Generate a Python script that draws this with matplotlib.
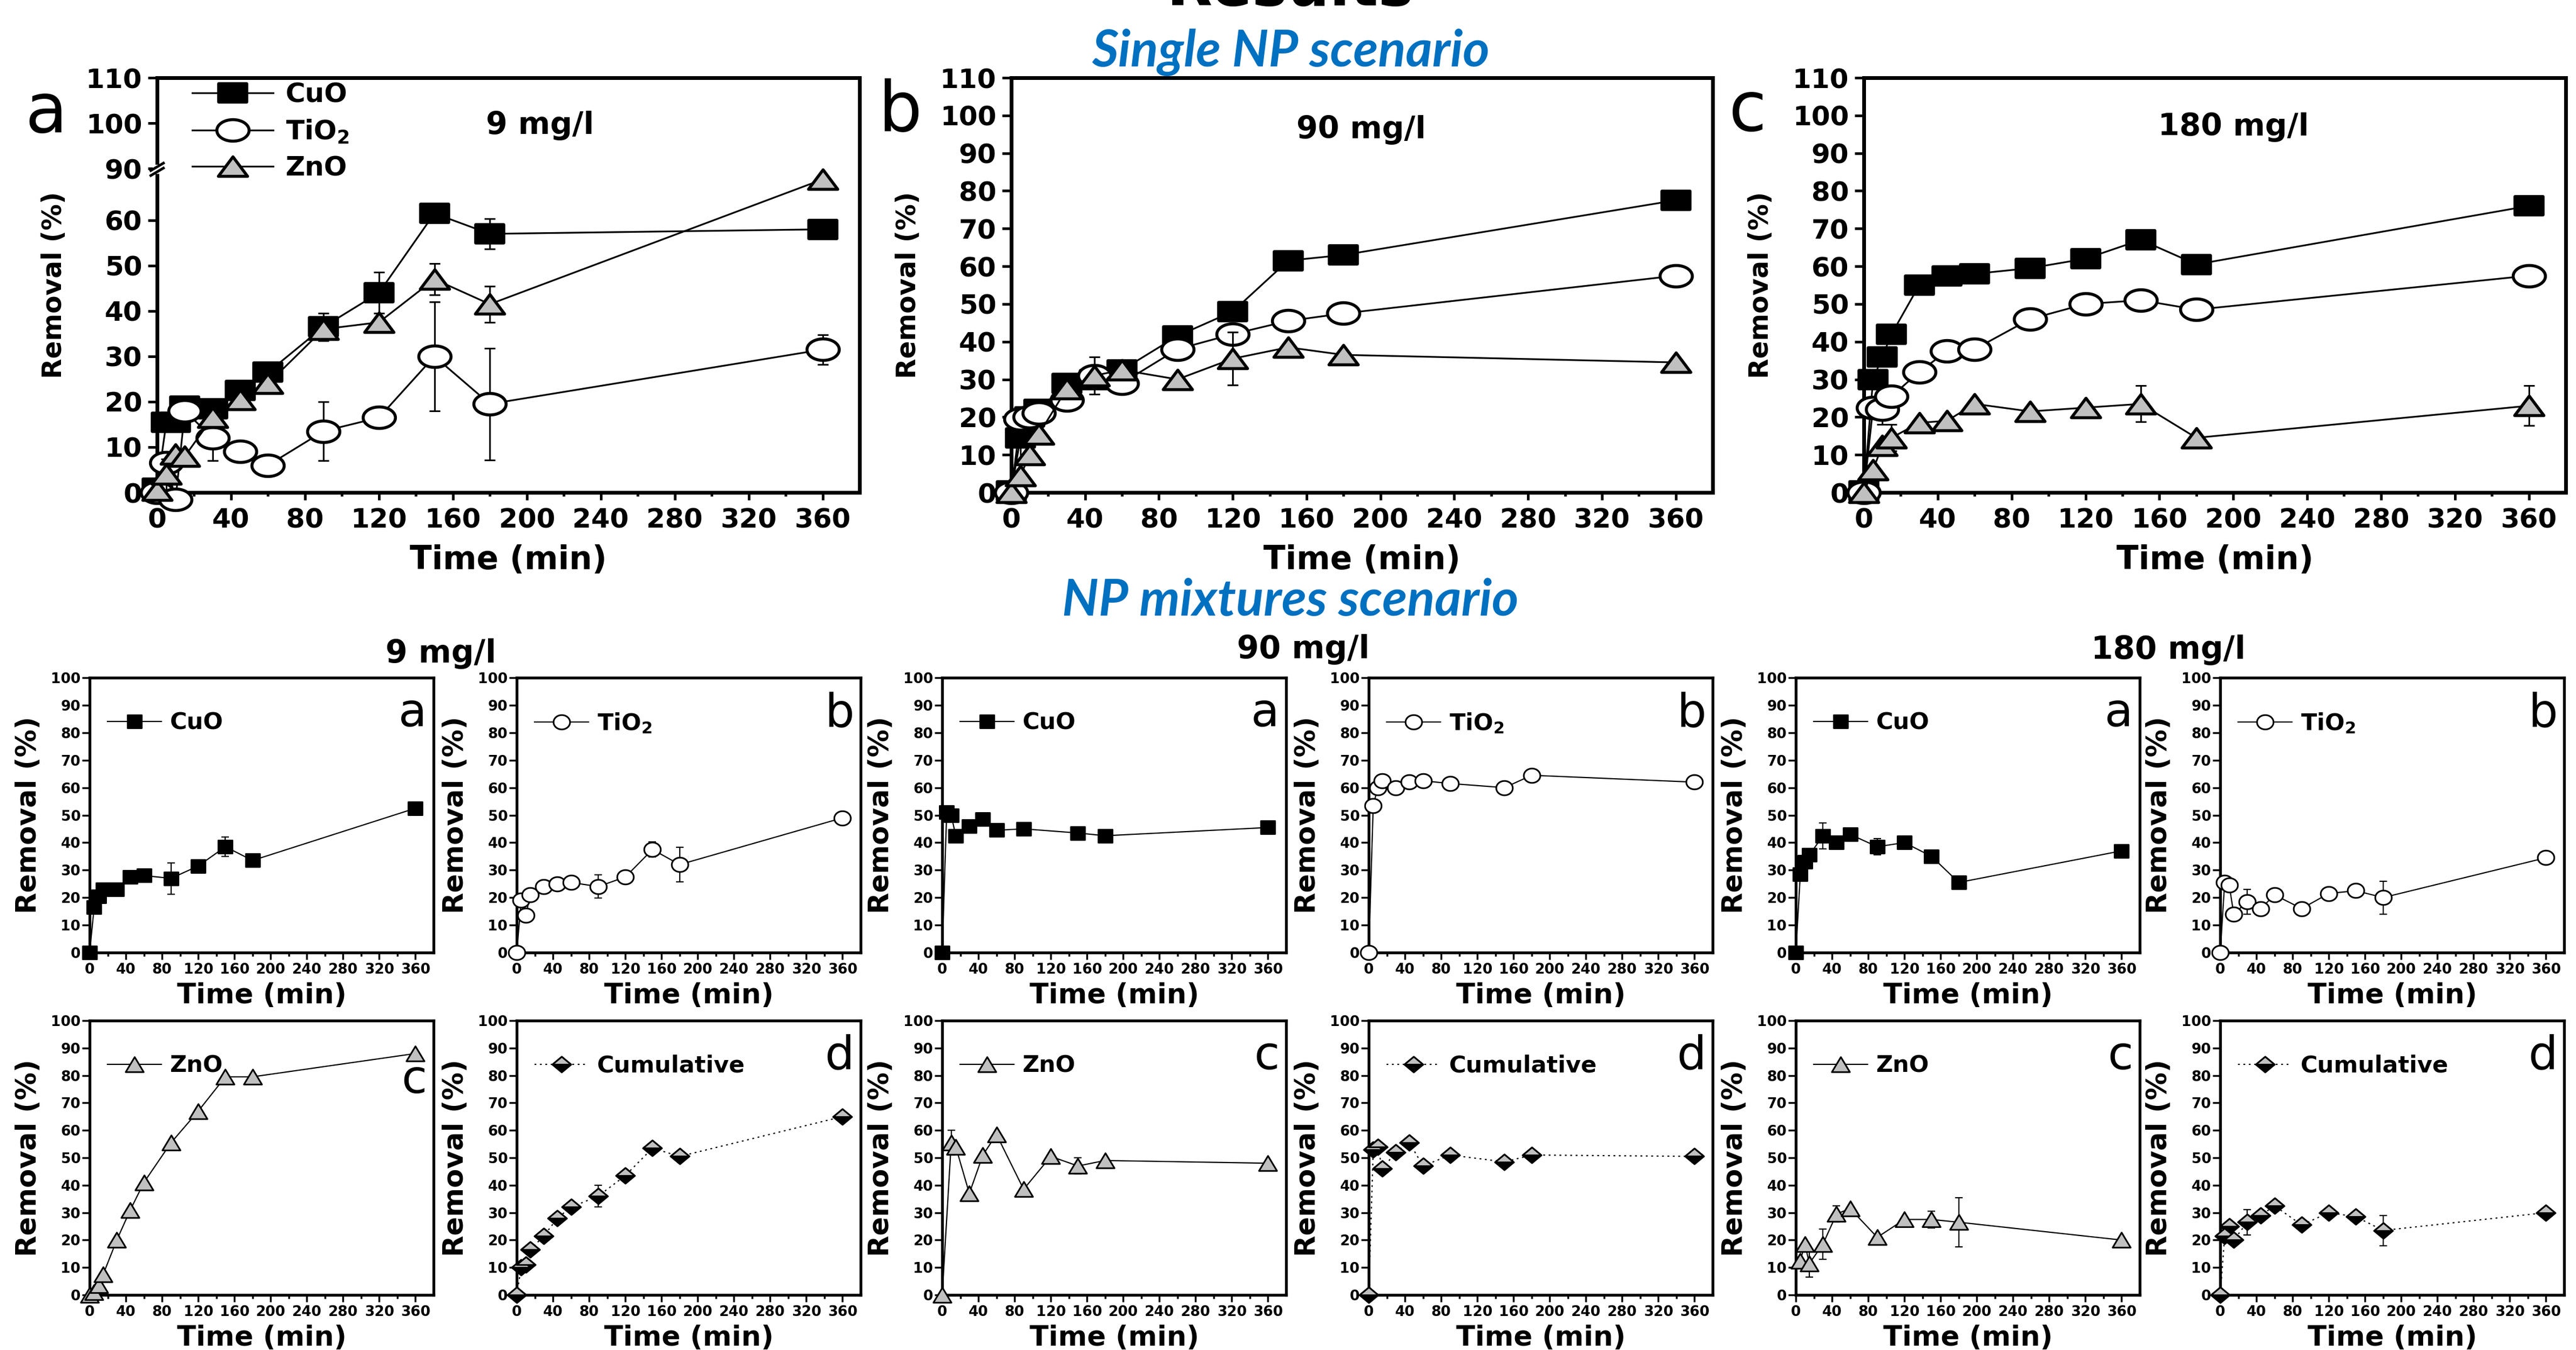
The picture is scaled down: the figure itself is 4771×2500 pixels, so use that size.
import numpy as np
import matplotlib
matplotlib.use('Agg')
import matplotlib.pyplot as plt
from matplotlib.path import Path
from matplotlib.markers import MarkerStyle
from matplotlib.patches import Rectangle
from matplotlib.legend_handler import HandlerTuple
from matplotlib.ticker import FixedLocator, NullLocator

plt.rcParams['font.family'] = ['DejaVu Sans']
plt.rcParams['font.weight'] = 'bold'
plt.rcParams['axes.labelweight'] = 'bold'
plt.rcParams['mathtext.fontset'] = 'dejavusans'
plt.rcParams['mathtext.default'] = 'bf'

# ---------------- data ----------------
TIME = [0, 5, 10, 15, 30, 45, 60, 90, 120, 150, 180, 360]
TIME_NO120 = [0, 5, 10, 15, 30, 45, 60, 90, 150, 180, 360]
TIME_ZNO_M90 = [0, 10, 15, 30, 45, 60, 90, 120, 150, 180, 360]
TIME_ZNO_M180 = [5, 10, 15, 30, 45, 60, 90, 120, 150, 180, 360]

XTICKS = [0, 40, 80, 120, 160, 200, 240, 280, 320, 360]
XMINOR = [20, 60, 100, 140, 180, 220, 260, 300, 340]
YTICKS_TOP = [0, 10, 20, 30, 40, 50, 60, 70, 80, 90, 100, 110]
YTICKS_BROKEN = [0, 10, 20, 30, 40, 50, 60, 90, 100, 110]
YTICKS_BOT = [0, 10, 20, 30, 40, 50, 60, 70, 80, 90, 100]

# Single NP scenario, 9 mg/l
S9_CUO = [1, 15.5, 15.5, 19, 18.5, 22.5, 26.5, 36.5, 44, 61.5, 57, 58]
S9_CUO_ERR = [0, 0, 0, 0, 0, 0, 0, 3, 4.5, 0, 3.3, 0]
S9_TIO2 = [0, 6.5, -1.5, 18, 12, 9, 6, 13.5, 16.5, 30, 19.5, 31.5]
S9_TIO2_ERR = [0, 0, 0, 0, 5, 0, 0, 6.5, 0, 12, 12.3, 3.3]
S9_ZNO = [0.5, 4, 8.5, 8, 16.5, 20.5, 24, 36, 37.5, 47, 41.5, 69]
S9_ZNO_ERR = [0, 3.4, 0, 0, 2.2, 0, 0, 0, 0, 3.5, 4, 0]

# Single NP scenario, 90 mg/l
S90_CUO = [0.5, 14.5, 20, 22, 29, 30, 32.5, 41.5, 48, 61.5, 63, 77.5]
S90_CUO_ERR = [0, 6.5, 0, 0, 0, 0, 0, 0, 0, 0, 0, 0]
S90_TIO2 = [0, 19.5, 20, 21, 24.5, 31, 29, 38, 42, 45.5, 47.5, 57.5]
S90_TIO2_ERR = [0, 0, 0, 0, 0, 5, 0, 0, 0, 0, 0, 0]
S90_ZNO = [0, 4.5, 10, 15.5, 27.5, 31, 32.5, 30, 35.5, 38.5, 36.5, 34.5]
S90_ZNO_ERR = [0, 0, 0, 0, 0, 0, 0, 0, 7, 0, 0, 0]

# Single NP scenario, 180 mg/l
S180_CUO = [0.5, 30, 36, 42, 55, 57.5, 58, 59.5, 62, 67, 60.5, 76]
S180_CUO_ERR = [0, 0, 0, 0, 0, 0, 0, 0, 0, 0, 0, 0]
S180_TIO2 = [0, 22.5, 22, 25.5, 32, 37.5, 38, 46, 50, 51, 48.5, 57.5]
S180_TIO2_ERR = [0, 0, 4, 0, 0, 0, 0, 0, 0, 0, 0, 0]
S180_ZNO = [0, 6, 12.5, 14.5, 18.5, 19, 23.5, 21.5, 22.5, 23.5, 14.5, 23]
S180_ZNO_ERR = [0, 0, 0, 3.5, 0, 0, 0, 0, 0, 4.8, 0, 5.3]

# NP mixtures scenario, 9 mg/l
M9_CUO = [0, 16.5, 20.5, 23, 23, 27.5, 28, 27, 31.5, 38.5, 33.5, 52.5]
M9_CUO_ERR = [0, 0, 0, 0, 0, 0, 0, 5.7, 0, 3.5, 0, 0]
M9_TIO2 = [0, 19, 13.5, 21, 24, 25, 25.5, 24, 27.5, 37.5, 32, 49]
M9_TIO2_ERR = [0, 0, 0, 0, 0, 0, 0, 4.2, 0, 2.8, 6.3, 0]
M9_ZNO = [0, 1, 3.5, 7.5, 20, 31, 41, 55.5, 67, 79.5, 79.5, 88]
M9_ZNO_ERR = [0, 0, 0, 0, 0, 0, 0, 0, 0, 0, 0, 0]
M9_CUM = [0, 10, 11, 16.5, 21.5, 28, 32, 36, 43.5, 53.5, 50.5, 65]
M9_CUM_ERR = [0, 0, 0, 0, 0, 0, 0, 4, 0, 0, 0, 0]

# NP mixtures scenario, 90 mg/l
M90_CUO = [0, 51, 50, 42.5, 46, 48.5, 44.5, 45, 43.5, 42.5, 45.5]
M90_CUO_ERR = [0, 0, 0, 0, 0, 0, 0, 0, 0, 0, 0]
M90_TIO2 = [0, 53.5, 60, 62.5, 60, 62, 62.5, 61.5, 60, 64.5, 62]
M90_TIO2_ERR = [0, 0, 0, 0, 0, 0, 0, 0, 0, 0, 0]
M90_ZNO = [0, 55.5, 54, 37, 51, 58.5, 38.5, 50.5, 47, 49, 48]
M90_ZNO_ERR = [0, 4.6, 0, 0, 0, 0, 0, 0, 3, 0, 0]
M90_CUM = [0, 53, 54, 46, 52, 55.5, 47, 51, 48.5, 51, 50.5]
M90_CUM_ERR = [0, 0, 0, 0, 0, 0, 0, 0, 0, 0, 0]

# NP mixtures scenario, 180 mg/l
M180_CUO = [0, 28.5, 33, 35.5, 42.5, 40, 43, 38.5, 40, 35, 25.5, 37]
M180_CUO_ERR = [0, 0, 0, 0, 4.7, 0, 0, 3, 0, 0, 0, 0]
M180_TIO2 = [0, 25.5, 24.5, 14, 18.5, 16, 21, 16, 21.5, 22.5, 20, 34.5]
M180_TIO2_ERR = [0, 0, 0, 0, 4.5, 0, 0, 0, 0, 0, 6, 0]
M180_ZNO = [12.5, 18.5, 11.5, 18.5, 29.5, 31.5, 21, 27.5, 27.5, 26.5, 20]
M180_ZNO_ERR = [0, 0, 5, 5.5, 3, 0, 0, 0, 3, 9, 0]
M180_CUM = [0, 21.5, 25, 20, 26.5, 29, 32.5, 25.5, 30, 28.5, 23.5, 30]
M180_CUM_ERR = [0, 0, 0, 0, 4.7, 0, 0, 0, 0, 0, 5.5, 0]

GRAY = '#C0C0C0'
BLUE = '#0070C0'

# ---------------- figure ----------------
W, H = 4771, 2500
fig = plt.figure(figsize=(W / 100, H / 100), dpi=100)


def box(l, t, r, b):
    return fig.add_axes([l / W, 1 - b / H, (r - l) / W, (b - t) / H])


def path_marker(verts, join='miter'):
    verts = np.asarray(verts, float)
    codes = [Path.MOVETO] + [Path.LINETO] * (len(verts) - 2) + [Path.CLOSEPOLY]
    return MarkerStyle(Path(verts, codes), joinstyle=join)


def ellipse(r):
    th = np.linspace(0, 2 * np.pi, 73)
    v = np.c_[r * np.cos(th), np.sin(th)]
    v[-1] = v[0]
    return path_marker(v, 'round')


def square(r):
    return path_marker([(-r, -1), (r, -1), (r, 1), (-r, 1), (-r, -1)])


def triangle(a):
    return path_marker([(-a, -1), (a, -1), (0, 1), (-a, -1)])


def diamond(a):
    return path_marker([(-a, 0), (0, -1), (a, 0), (0, 1), (-a, 0)])


def diamond_top(a):
    return path_marker([(-a, 0), (a, 0), (0, 1), (-a, 0)], 'round')


TOP = dict(lw=2.3, mew=4, elw=2.2, cap=7)
BOT = dict(lw=1.6, mew=2.2, elw=1.6, cap=4.7)
MK_TOP = {'sq': (square(1.5), 37), 'ci': (ellipse(1.5), 43), 'tr': (triangle(1.5), 39)}
MK_BOT = {'sq': (square(1.1), 19), 'ci': (ellipse(1.15), 22), 'tr': (triangle(1.2), 24),
          'di': (diamond(1.2), 25), 'dt': (diamond_top(1.2), 25)}


def series(ax, t, y, err, mk, mfc, st, z, ls='-'):
    t = np.asarray(t, float)
    y = np.asarray(y, float)
    e = np.asarray(err, float)
    m = e > 0
    if m.any():
        ax.errorbar(t[m], y[m], yerr=e[m], fmt='none', ecolor='k', elinewidth=st['elw'],
                    capsize=st['cap'], capthick=st['elw'], zorder=z)
    ln, = ax.plot(t, y, color='k', lw=st['lw'], ls=ls, marker=mk[0], ms=mk[1], mfc=mfc,
                  mec='k', mew=st['mew'], zorder=z + 0.05, clip_on=False)
    return ln


def style_common(ax, spine_w):
    ax.set_xlim(0, 380)
    ax.xaxis.set_major_locator(FixedLocator(XTICKS))
    ax.xaxis.set_minor_locator(FixedLocator(XMINOR))
    ax.yaxis.set_minor_locator(NullLocator())
    for s in ax.spines.values():
        s.set_linewidth(spine_w)


def style_top(ax):
    style_common(ax, 5)
    ax.tick_params(axis='both', which='major', direction='out', width=3.5, labelsize=36)
    ax.tick_params(axis='y', which='major', length=12, pad=8)
    ax.tick_params(axis='x', which='major', length=10, pad=10)
    ax.tick_params(axis='x', which='minor', direction='out', length=5, width=3.5)
    ax.set_xlabel('Time (min)', fontsize=43)
    ax.xaxis.label.set_va('center')
    ax.xaxis.set_label_coords(0.5, -0.164)
    ax.set_ylabel('Removal (%)', fontsize=35)
    ax.yaxis.label.set_va('center')
    ax.yaxis.set_label_coords(-0.147, 0.5)


def style_bot(ax):
    style_common(ax, 3.8)
    ax.set_ylim(0, 100)
    ax.yaxis.set_major_locator(FixedLocator(YTICKS_BOT))
    ax.tick_params(axis='both', which='major', direction='out', width=2.5, labelsize=19)
    ax.tick_params(axis='y', which='major', length=10, pad=2)
    ax.tick_params(axis='x', which='major', length=9, pad=5)
    ax.tick_params(axis='x', which='minor', direction='out', length=5, width=2.5)
    ax.set_xlabel('Time (min)', fontsize=37)
    ax.xaxis.label.set_va('center')
    ax.xaxis.set_label_coords(0.5, -0.158)
    ax.set_ylabel('Removal (%)', fontsize=37)
    ax.yaxis.label.set_va('center')
    ax.yaxis.set_label_coords(-0.177, 0.5)


# ---------- broken y scale for panel a ----------
BRK_LO, BRK_HI, GAP = 70.7, 90.0, 0.7


def fwd(y):
    y = np.asarray(y, dtype=float)
    return np.where(y <= BRK_LO, y,
                    np.where(y >= BRK_HI, y - (BRK_HI - BRK_LO) + GAP,
                             BRK_LO + (y - BRK_LO) * GAP / (BRK_HI - BRK_LO)))


def inv(t):
    t = np.asarray(t, dtype=float)
    return np.where(t <= BRK_LO, t,
                    np.where(t >= BRK_LO + GAP, t + (BRK_HI - BRK_LO) - GAP,
                             BRK_LO + (t - BRK_LO) * (BRK_HI - BRK_LO) / GAP))


# ---------------- top row (single NP) ----------------
top_boxes = [(291, 144, 1592, 912), (1873, 144, 3172, 912), (3452, 144, 4752, 912)]
top_data = [
    (S9_CUO, S9_CUO_ERR, S9_TIO2, S9_TIO2_ERR, S9_ZNO, S9_ZNO_ERR, '9 mg/l', 0.545, 0.865),
    (S90_CUO, S90_CUO_ERR, S90_TIO2, S90_TIO2_ERR, S90_ZNO, S90_ZNO_ERR, '90 mg/l', 0.499, 0.854),
    (S180_CUO, S180_CUO_ERR, S180_TIO2, S180_TIO2_ERR, S180_ZNO, S180_ZNO_ERR, '180 mg/l', 0.527, 0.861),
]
top_axes = []
for i, (bx, d) in enumerate(zip(top_boxes, top_data)):
    ax = box(*bx)
    top_axes.append(ax)
    if i == 0:
        ax.set_yscale('function', functions=(fwd, inv))
        ax.set_ylim(0, 110)
        ax.yaxis.set_major_locator(FixedLocator(YTICKS_BROKEN))
    else:
        ax.set_ylim(0, 110)
        ax.yaxis.set_major_locator(FixedLocator(YTICKS_TOP))
    style_top(ax)
    l1 = series(ax, TIME, d[0], d[1], MK_TOP['sq'], 'k', TOP, 3.0)
    l2 = series(ax, TIME, d[2], d[3], MK_TOP['ci'], 'white', TOP, 3.2)
    l3 = series(ax, TIME, d[4], d[5], MK_TOP['tr'], GRAY, TOP, 3.4)
    ax.text(d[7], d[8], d[6], transform=ax.transAxes, ha='center', va='baseline', fontsize=41)
    if i == 0:
        ax.legend([l1, l2, l3], ['CuO', 'TiO$_2$', 'ZnO'], loc='upper left',
                  bbox_to_anchor=(0.05, 0.99), frameon=False, fontsize=36, handlelength=3.0,
                  handletextpad=0.45, labelspacing=0.38, borderaxespad=0, borderpad=0, numpoints=1)

# axis break marks on panel a
axa = top_axes[0]
yf = axa.transAxes.inverted().transform(axa.transData.transform((0, 85.0)))[1]
axa.add_patch(Rectangle((-0.006, yf - 0.011), 0.012, 0.022, transform=axa.transAxes,
                        fc='white', ec='none', clip_on=False, zorder=10))
for dy in (-0.006, 0.006):
    axa.plot([-0.009, 0.009], [yf + dy - 0.009, yf + dy + 0.009], color='k', lw=3.5,
             transform=axa.transAxes, clip_on=False, zorder=11)

for (lx, ly, lt) in [(46, 245, 'a'), (1626, 242, 'b'), (3202, 242, 'c')]:
    fig.text(lx / W, 1 - ly / H, lt, fontsize=92, fontweight='normal', ha='left', va='baseline')

# ---------------- bottom rows (mixtures) ----------------
cols = [166, 957, 1745, 2535, 3326, 4112]
CW = 637
ROW1 = (1255, 1764)
ROW2 = (1890, 2398)

mix = [
    # (col, row, times, values, errors, kind, label, letter)
    (0, 0, TIME, M9_CUO, M9_CUO_ERR, 'sq', 'CuO', 'a'),
    (1, 0, TIME, M9_TIO2, M9_TIO2_ERR, 'ci', 'TiO$_2$', 'b'),
    (0, 1, TIME, M9_ZNO, M9_ZNO_ERR, 'tr', 'ZnO', 'c'),
    (1, 1, TIME, M9_CUM, M9_CUM_ERR, 'cum', 'Cumulative', 'd'),
    (2, 0, TIME_NO120, M90_CUO, M90_CUO_ERR, 'sq', 'CuO', 'a'),
    (3, 0, TIME_NO120, M90_TIO2, M90_TIO2_ERR, 'ci', 'TiO$_2$', 'b'),
    (2, 1, TIME_ZNO_M90, M90_ZNO, M90_ZNO_ERR, 'tr', 'ZnO', 'c'),
    (3, 1, TIME_NO120, M90_CUM, M90_CUM_ERR, 'cum', 'Cumulative', 'd'),
    (4, 0, TIME, M180_CUO, M180_CUO_ERR, 'sq', 'CuO', 'a'),
    (5, 0, TIME, M180_TIO2, M180_TIO2_ERR, 'ci', 'TiO$_2$', 'b'),
    (4, 1, TIME_ZNO_M180, M180_ZNO, M180_ZNO_ERR, 'tr', 'ZnO', 'c'),
    (5, 1, TIME, M180_CUM, M180_CUM_ERR, 'cum', 'Cumulative', 'd'),
]
FACE = {'sq': 'k', 'ci': 'white', 'tr': GRAY}

for (c, r, t, y, e, kind, lab, let) in mix:
    top, bot = ROW1 if r == 0 else ROW2
    ax = box(cols[c], top, cols[c] + CW, bot)
    style_bot(ax)
    if kind == 'cum':
        ln = series(ax, t, y, e, MK_BOT['di'], 'k', BOT, 3.0, ls=(0, (1.5, 3)))
        half, = ax.plot(t, y, ls='none', marker=MK_BOT['dt'][0], ms=MK_BOT['dt'][1], mfc=GRAY,
                        mec='k', mew=BOT['mew'], zorder=3.1, clip_on=False)
        handle = (ln, half)
    else:
        handle = series(ax, t, y, e, MK_BOT[kind], FACE[kind], BOT, 3.0)
    ax.legend([handle], [lab], loc='center left', bbox_to_anchor=(0.052, 0.835), frameon=False,
              fontsize=31, handlelength=2.33, handletextpad=0.35, borderaxespad=0, borderpad=0,
              numpoints=1, handler_map={tuple: HandlerTuple(ndivide=1, pad=0)})
    ly = 0.737 if (c == 0 and r == 1) else 0.823
    ax.text(0.981, ly, let, transform=ax.transAxes, ha='right', va='baseline',
            fontsize=62, fontweight='normal')

# ---------------- headings ----------------
fig.text(2390 / W, 1 - 10 / H, 'Results', ha='center', va='baseline', fontsize=79)
fig.text(2391 / W, 1 - 123 / H, 'Single NP scenario', ha='center', va='baseline', color=BLUE,
         fontsize=68, family=['Lato', 'DejaVu Sans'], fontweight='bold', fontstyle='italic')
fig.text(2390 / W, 1 - 1140 / H, 'NP mixtures scenario', ha='center', va='baseline', color=BLUE,
         fontsize=68, family=['Lato', 'DejaVu Sans'], fontweight='bold', fontstyle='italic')
fig.text(816 / W, 1 - 1227 / H, '9 mg/l', ha='center', va='baseline', fontsize=42)
fig.text(2414 / W, 1 - 1219 / H, '90 mg/l', ha='center', va='baseline', fontsize=42)
fig.text(4016 / W, 1 - 1220 / H, '180 mg/l', ha='center', va='baseline', fontsize=42)

fig.savefig('out.png', dpi=100)
